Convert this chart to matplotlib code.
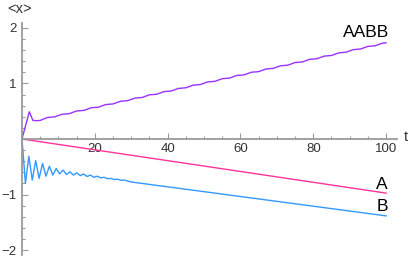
import numpy as np
import matplotlib
matplotlib.use("Agg")
import matplotlib.pyplot as plt
from matplotlib.ticker import MultipleLocator, FixedLocator

plt.rcParams['font.family'] = ['Liberation Sans', 'DejaVu Sans']

# ---- data ----
t_A = [0, 100]
y_A = [0.0, -0.975]

t_B = [0, 0.94, 1.88, 2.82, 3.76, 4.70, 5.64, 6.58, 7.52, 8.46, 9.40, 10.34,
       11.28, 12.22, 13.16, 14.10, 15.04, 15.98, 16.92, 17.86, 18.80, 19.74,
       20.68, 21.62, 22.56, 23.50, 24.44, 25.38, 26.32, 27.26, 28.20, 29.14,
       30.08, 100]
y_B = [0.0, -0.80, -0.31, -0.74, -0.39, -0.71, -0.44, -0.67, -0.49, -0.65,
       -0.53, -0.63, -0.56, -0.64, -0.59, -0.65, -0.61, -0.66, -0.63, -0.675,
       -0.65, -0.69, -0.67, -0.70, -0.69, -0.715, -0.71, -0.73, -0.725, -0.745,
       -0.74, -0.76, -0.775, -1.385]

t_AABB = list(range(0, 101))
y_AABB = [0.0, 0.245, 0.49, 0.335, 0.330, 0.335, 0.362,
          0.388, 0.393, 0.399, 0.423,
          0.446, 0.452, 0.457, 0.481,
          0.505, 0.510, 0.515, 0.539,
          0.563, 0.568, 0.573, 0.597,
          0.621, 0.626, 0.632, 0.655,
          0.679, 0.685, 0.690, 0.714,
          0.737, 0.743, 0.748, 0.772,
          0.796, 0.801, 0.806, 0.830,
          0.854, 0.859, 0.864, 0.888,
          0.912, 0.917, 0.923, 0.946,
          0.970, 0.976, 0.981, 1.005,
          1.028, 1.034, 1.039, 1.063,
          1.087, 1.092, 1.097, 1.121,
          1.145, 1.150, 1.155, 1.179,
          1.203, 1.208, 1.214, 1.237,
          1.261, 1.267, 1.272, 1.296,
          1.319, 1.325, 1.330, 1.354,
          1.378, 1.383, 1.388, 1.412,
          1.436, 1.441, 1.446, 1.470,
          1.494, 1.499, 1.505, 1.528,
          1.552, 1.558, 1.563, 1.587,
          1.610, 1.616, 1.621, 1.645,
          1.669, 1.674, 1.679, 1.703,
          1.727, 1.732]

x_major = [20, 40, 60, 80, 100]
x_labels = ['20', '40', '60', '80', '100']
y_major = [-2, -1, 1, 2]
y_labels = ['\u22122', '\u22121', '1', '2']

series_labels = ['A', 'B', 'AABB']
col_A = '#FF3399'
col_B = '#3399FF'
col_AABB = '#9933FF'

# ---- figure ----
W, H = 415, 257
fig = plt.figure(figsize=(W / 100, H / 100), dpi=100)
ax = fig.add_axes([22 / W, 2 / H, (397 - 22) / W, (255 - 23) / H])
ax.set_xlim(0, 103)
ax.set_ylim(-2.09, 2.09)
ax.patch.set_alpha(0)

ax.plot(t_A, y_A, color=col_A, lw=1.0, clip_on=False)
ax.plot(t_B, y_B, color=col_B, lw=1.0, clip_on=False)
ax.plot(t_AABB, y_AABB, color=col_AABB, lw=1.0, clip_on=False)

axis_col = '#9a9a9a'
for s in ['top', 'right']:
    ax.spines[s].set_visible(False)
ax.spines['bottom'].set_position(('data', 0))
ax.spines['left'].set_position(('data', 0))
for s in ['bottom', 'left']:
    ax.spines[s].set_color(axis_col)
    ax.spines[s].set_linewidth(1.3)

ax.xaxis.set_major_locator(FixedLocator(x_major))
ax.set_xticklabels(x_labels)
ax.xaxis.set_minor_locator(MultipleLocator(5))
ax.yaxis.set_major_locator(FixedLocator(y_major))
ax.set_yticklabels(y_labels)
ax.yaxis.set_minor_locator(MultipleLocator(0.2))

ax.tick_params(which='both', direction='in', color=axis_col, width=0.8,
               labelcolor='#333333', labelsize=9.5)
ax.tick_params(which='major', length=4)
ax.tick_params(which='minor', length=2)
ax.tick_params(axis='x', pad=3)
ax.tick_params(axis='y', pad=4)

# axis labels
fig.text(7 / W, 1 - 9 / H, '<x>', fontsize=10.5, color='#333333',
         ha='left', va='center')
fig.text(404 / W, 1 - 137 / H, 't', fontsize=10.5, color='#333333',
         ha='left', va='center')

# series labels
lab_kw = dict(fontsize=12.5, color='black', ha='right', va='bottom')
ax.text(100.5, y_A[-1] + 0.02, series_labels[0], **lab_kw)
ax.text(100.5, y_B[-1] + 0.03, series_labels[1], **lab_kw)
ax.text(100.8, y_AABB[-1] + 0.06, series_labels[2], **lab_kw)

fig.savefig('out.png', dpi=100)
